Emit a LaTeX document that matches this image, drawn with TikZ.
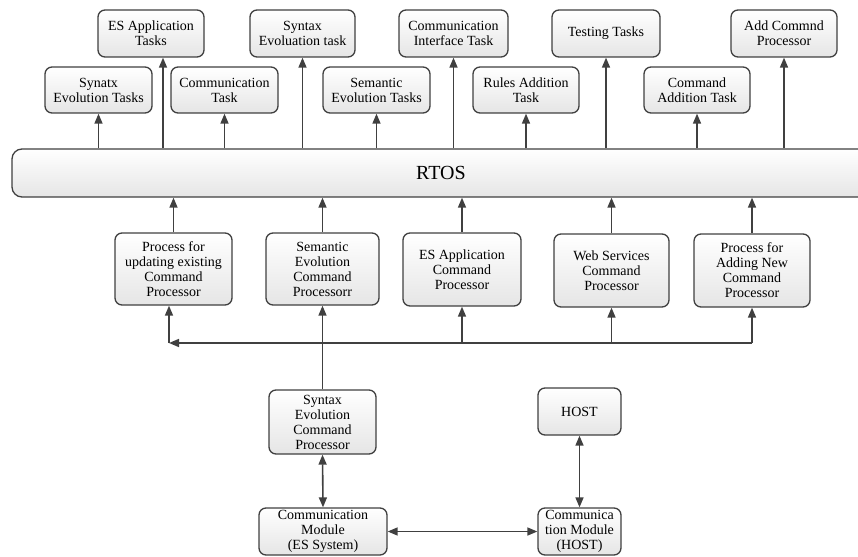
\documentclass[tikz,border=0pt]{standalone}
\usepackage{fontspec}
\setmainfont{Liberation Serif}
\usetikzlibrary{arrows.meta}
\definecolor{linegray}{HTML}{404040}

\begin{document}
\begin{tikzpicture}[x=1pt, y=-1pt,
  box/.style={draw=linegray, line width=1.3pt, rounded corners=7pt, top color=white, bottom color=black!10, align=center, inner sep=1pt, font=\fontsize{14}{15}\selectfont},
  arr/.style={draw=linegray, line width=1.6pt, -{Triangle[length=10pt,width=8pt]}},
  darr/.style={draw=linegray, line width=1.6pt, {Triangle[length=10pt,width=8pt]}-{Triangle[length=10pt,width=8pt]}}]
  \useasboundingbox (0,0) rectangle (858,556);
  %Upper row of tasks
  \node [box, minimum width=106pt, minimum height=47pt] (esapp) at (151,33.5) {ES Application\\Tasks};
  \node [box, minimum width=105pt, minimum height=47pt] (syntask) at (302.5,33.5) {Syntax\\Evoluation task};
  \node [box, minimum width=109pt, minimum height=47pt] (comiface) at (453.5,33.5) {Communication\\Interface Task};
  \node [box, minimum width=108pt, minimum height=47pt] (testing) at (606,33.5) {Testing Tasks};
  \node [box, minimum width=106pt, minimum height=47pt] (addcmd) at (784,33.5) {Add Commnd\\Processor};
  %Lower row of tasks
  \node [box, minimum width=107pt, minimum height=46pt] (synatx) at (98.5,90) {Synatx\\Evolution Tasks};
  \node [box, minimum width=107pt, minimum height=46pt] (commtask) at (224.5,90) {Communication\\Task};
  \node [box, minimum width=107pt, minimum height=46pt] (semtask) at (376.5,90) {Semantic\\Evolution Tasks};
  \node [box, minimum width=106pt, minimum height=46pt] (rules) at (526,90) {Rules Addition\\Task};
  \node [box, minimum width=106pt, minimum height=46pt] (cmdadd) at (697,90) {Command\\Addition Task};
  %RTOS
  \node [box, rounded corners=10pt, minimum width=858pt, minimum height=48pt, font=\fontsize{20}{24}\selectfont] (rtos) at (441,173) {RTOS};
  %Command processors
  \node [box, minimum width=117pt, minimum height=72pt] (procupd) at (173.5,269) {Process for\\updating existing\\Command\\Processor};
  \node [box, minimum width=113pt, minimum height=72pt] (semcp) at (322.5,269) {Semantic\\Evolution\\Command\\Processorr};
  \node [box, minimum width=118pt, minimum height=73pt] (escp) at (462,269.5) {ES Application\\Command\\Processor};
  \node [box, minimum width=115pt, minimum height=73pt] (webcp) at (611.5,270.5) {Web Services\\Command\\Processor};
  \node [box, minimum width=116pt, minimum height=73pt] (procadd) at (752,270.5) {Process for\\Adding New\\Command\\Processor};
  %Lower part
  \node [box, minimum width=107pt, minimum height=64pt] (sycp) at (322.5,422) {Syntax\\Evolution\\Command\\Processor};
  \node [box, minimum width=83pt, minimum height=47pt] (host) at (579.5,411.5) {HOST};
  \node [box, minimum width=128pt, minimum height=47pt] (commes) at (323,531.5) {Communication\\Module\\(ES System)};
  \node [box, minimum width=83pt, minimum height=47pt, inner sep=0pt] (commhost) at (579.5,531.5) {Communica\\tion Module\\(HOST)};
  %RTOS to tasks
  \foreach \t in {synatx, commtask, syntask, semtask, comiface, rules, testing, cmdadd, addcmd}
    \draw [arr] (\t.south |- rtos.north) -- (\t.south);
  \draw [arr] ([xshift=12pt]esapp.south |- rtos.north) -- ([xshift=12pt]esapp.south);
  %Processors to RTOS
  \foreach \p in {procupd, semcp, escp, webcp, procadd}
    \draw [arr] (\p.north) -- (\p.north |- rtos.south);
  %Bus
  \coordinate (busL) at (169,343);
  \coordinate (busR) at (752,343);
  \draw [arr] (busR) -- (busL);
  \draw [arr] (busL) -- (busL |- procupd.south);
  \foreach \p in {escp, webcp, procadd}
    \draw [arr] (\p.south |- busR) -- (\p.south);
  \draw [arr] (sycp.north) -- (semcp.south);
  %Communication modules
  \draw [darr] (sycp.south) -- (commes.north);
  \draw [darr] (host.south) -- (commhost.north);
  \draw [darr] (commes.east) -- (commhost.west);
\end{tikzpicture}
\end{document}
